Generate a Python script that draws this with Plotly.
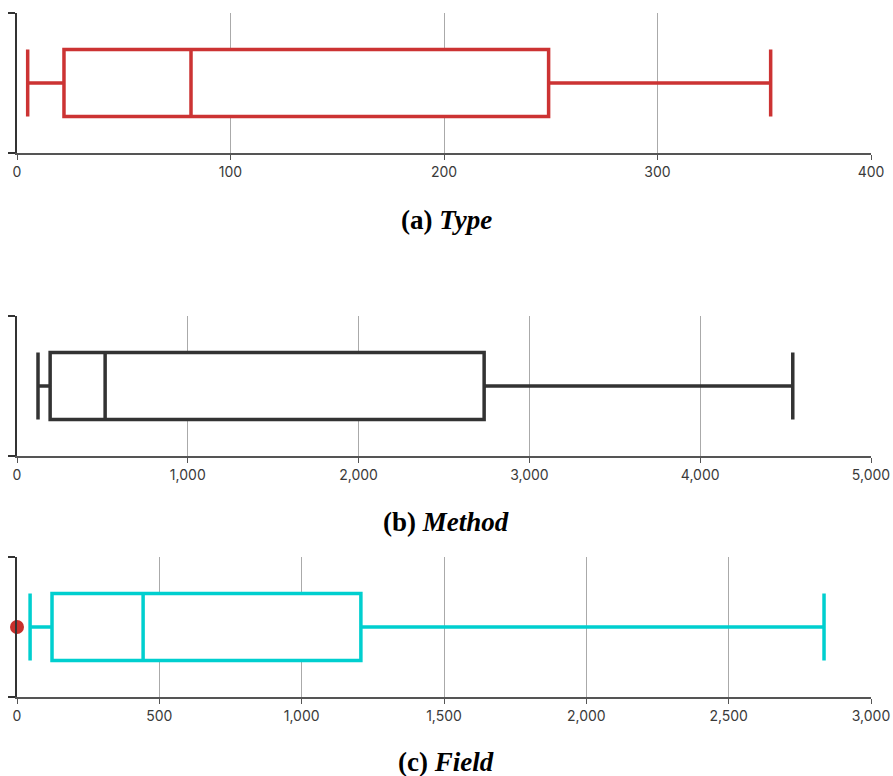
import plotly.graph_objects as go

# Summary statistics for each distribution
type_stats = dict(lowerfence=5, q1=22, median=81.5, q3=249, upperfence=353)
method_stats = dict(lowerfence=123, q1=194, median=516, q3=2735, upperfence=4542)
field_stats = dict(lowerfence=46, q1=123, median=443, q3=1208, upperfence=2835)
field_outliers = [0]

type_ticks = [0, 100, 200, 300, 400]
method_ticks = [0, 1000, 2000, 3000, 4000, 5000]
field_ticks = [0, 500, 1000, 1500, 2000, 2500, 3000]

captions = ["(a) <i>Type</i>", "(b) <i>Method</i>", "(c) <i>Field</i>"]

W, H = 893, 776
x_dom = [17 / W, 871 / W]
panels = [
    dict(stats=type_stats, color="#cc3333", ticks=type_ticks, top=13, bottom=153, cap=220),
    dict(stats=method_stats, color="#333333", ticks=method_ticks, top=316, bottom=456, cap=522),
    dict(stats=field_stats, color="#00cfcf", ticks=field_ticks, top=557, bottom=697, cap=762),
]

fig = go.Figure()
layout = dict(
    width=W, height=H,
    margin=dict(l=0, r=0, t=0, b=0, autoexpand=False),
    paper_bgcolor="white", plot_bgcolor="white",
    showlegend=False, hovermode=False,
    annotations=[],
)

for i, p in enumerate(panels):
    n = "" if i == 0 else str(i + 1)
    s = p["stats"]
    fig.add_trace(go.Box(
        orientation="h",
        y=[0.5],
        q1=[s["q1"]], median=[s["median"]], q3=[s["q3"]],
        lowerfence=[s["lowerfence"]], upperfence=[s["upperfence"]],
        width=0.48, whiskerwidth=1,
        line=dict(color=p["color"], width=3.5),
        fillcolor="white",
        boxpoints=False,
        xaxis="x" + n, yaxis="y" + n,
    ))
    ydom = [1 - p["bottom"] / H, 1 - p["top"] / H]
    layout["xaxis" + n] = dict(
        domain=x_dom, anchor="y" + n,
        range=[0, p["ticks"][-1]],
        tickvals=p["ticks"], tickformat=",",
        showgrid=True, gridcolor="#aaaaaa", gridwidth=1,
        zeroline=False, automargin=False,
        showline=True, linecolor="#555555", linewidth=1.5,
        ticks="outside", ticklen=5, tickcolor="#555555", tickwidth=1,
        tickfont=dict(family="Inter", size=14, color="#3a3a3a"),
        fixedrange=True,
    )
    layout["yaxis" + n] = dict(
        domain=ydom, anchor="x" + n,
        range=[0, 1],
        tickvals=[0, 1], showticklabels=False,
        showgrid=False, zeroline=False, automargin=False,
        showline=True, linecolor="#333333", linewidth=1.5,
        ticks="outside", ticklen=7, tickcolor="#333333", tickwidth=1.5,
        fixedrange=True,
    )
    layout["annotations"].append(dict(
        text="<b>" + captions[i] + "</b>",
        xref="paper", yref="paper",
        x=446 / W, y=1 - p["cap"] / H,
        xanchor="center", yanchor="middle",
        showarrow=False,
        font=dict(family="Liberation Serif", size=27, color="black"),
    ))

# Outlier in the Field distribution
fig.add_trace(go.Scatter(
    x=field_outliers, y=[0.5] * len(field_outliers),
    mode="markers",
    marker=dict(color="#c8302c", size=14),
    xaxis="x3", yaxis="y3",
    cliponaxis=False,
))

fig.update_layout(**layout)
fig.write_html("out.html")
